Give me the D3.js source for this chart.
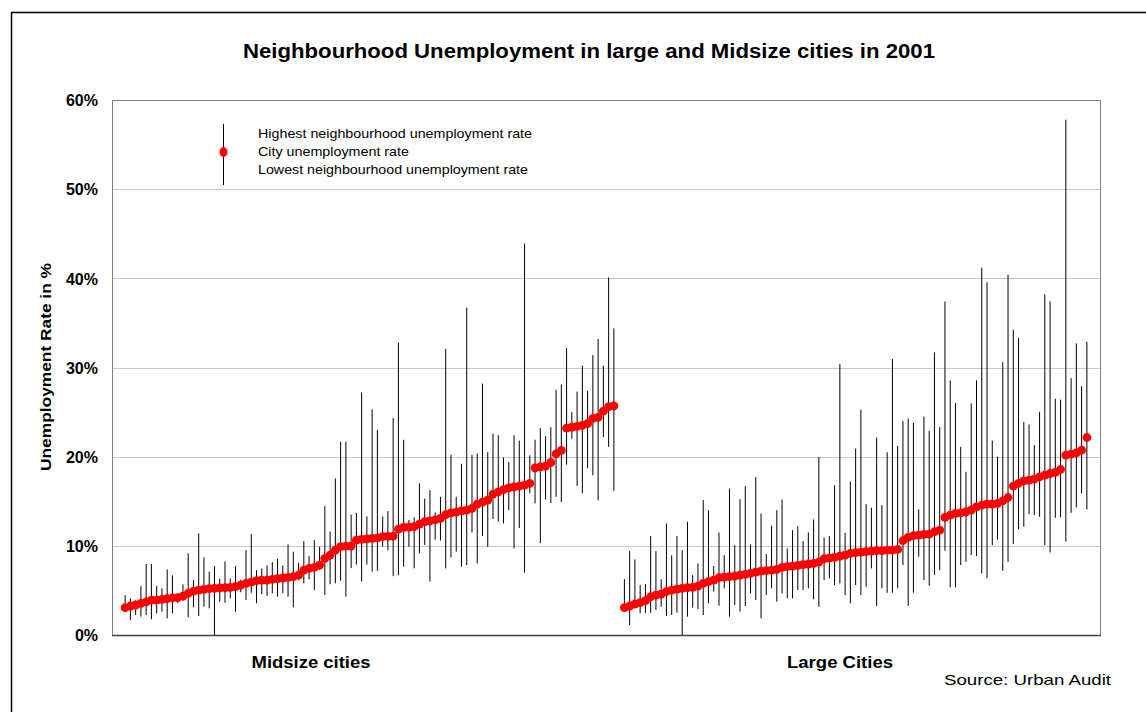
<!DOCTYPE html>
<html>
<head>
<meta charset="utf-8">
<script src="https://cdn.jsdelivr.net/npm/d3@7"></script>
<style>
  body { margin: 0; background: #fff; }
  svg { display: block; font-family: "Liberation Sans", Arial, sans-serif; }
</style>
</head>
<body>
<svg id="chart" width="1146" height="712"></svg>
<script>
// ---------- DATA ----------
const title = "Neighbourhood Unemployment in large and Midsize cities in 2001";
const groupLabels = ["Midsize cities", "Large Cities"];
const yTickValues = [0, 10, 20, 30, 40, 50, 60];
const yAxisTitle = "Unemployment Rate in %";
const legendLabels = ["Highest neighbourhood unemployment rate", "City unemployment rate", "Lowest neighbourhood unemployment rate"];
const sourceText = "Source: Urban Audit";

// Midsize cities (sorted by city rate), values in %
const midsizeCity = [3.06,3.25,3.36,3.55,3.70,3.92,3.92,4.0,4.07,4.15,
  4.18,4.37,4.67,4.93,5.04,5.12,5.19,5.23,5.27,5.3,
  5.34,5.42,5.6,5.79,5.94,6.09,6.16,6.16,6.24,6.31,
  6.39,6.46,6.54,6.72,7.28,7.47,7.58,7.84,8.59,8.96,
  9.52,9.9,9.97,9.97,10.64,10.72,10.79,10.83,10.9,11.02,
  11.06,11.09,11.88,12.06,12.1,12.14,12.44,12.7,12.8,12.9,
  13.07,13.5,13.7,13.78,13.93,14.0,14.2,14.68,14.9,15.13,
  15.8,16.06,16.3,16.5,16.6,16.7,16.8,17.0,18.75,18.86,
  18.94,19.35,20.3,20.7,23.2,23.3,23.4,23.5,23.7,24.3,
  24.4,25.1,25.6,25.7];
const midsizeHigh = [4.48,4.11,3.9,5.49,7.96,7.96,5.49,5.23,7.36,6.69,
  4.6,5.68,9.15,6.16,11.39,8.7,7.1,7.73,6.31,8.25,
  6.35,7.73,6.2,9.52,11.32,7.28,7.47,7.81,8.18,8.55,
  7.81,10.16,9.34,8.1,10.53,8.85,10.64,9.9,14.45,11.6,
  17.56,21.68,21.68,13.5,13.7,27.2,13.3,25.3,23.0,13.3,
  13.9,24.35,32.8,21.9,12.9,13.2,17.0,15.3,16.25,13.75,
  15.5,32.1,20.2,15.5,19.2,36.7,20.2,20.35,28.2,20.5,
  22.6,22.4,19.9,19.4,22.4,21.8,43.9,20.15,21.9,23.2,
  22.3,23.3,27.5,28.1,32.2,25.0,27.3,30.2,27.4,31.4,
  33.2,30.2,40.1,34.4];
const midsizeLow = [2.61,1.68,2.24,2.05,2.24,1.76,2.43,2.61,1.87,2.43,
  3.6,3.85,1.98,3.1,2.13,3.17,2.99,0,3.73,3.62,
  4.11,2.61,4.8,3.92,4.74,3.55,4.59,4.37,4.67,4.3,
  4.67,4.3,3.1,6.16,5.79,6.24,5.04,7.3,4.5,5.7,
  5.8,6.1,4.3,7.5,7.9,6.0,7.9,7.1,7.2,9.9,
  9.5,6.6,6.7,7.66,9.9,7.47,9.15,10.1,5.98,10.68,
  10.6,7.47,8.7,9.34,7.66,7.84,11.5,8.03,11.1,9.9,
  13.0,12.7,12.5,14.0,9.7,12.0,7.0,15.9,14.75,10.3,
  15.2,14.8,15.5,14.9,19.1,22.0,16.7,15.9,18.7,17.9,
  15.1,22.2,21.1,16.2];

// Large cities (sorted by city rate), values in %
const largeCity = [3.06,3.25,3.47,3.62,3.85,4.29,4.48,4.59,4.86,5.04,
  5.15,5.23,5.3,5.34,5.49,5.79,5.98,6.16,6.42,6.5,
  6.54,6.61,6.72,6.8,6.91,7.06,7.17,7.21,7.28,7.36,
  7.58,7.66,7.73,7.81,7.88,7.96,8.03,8.18,8.55,8.63,
  8.7,8.85,8.96,9.15,9.23,9.3,9.34,9.41,9.45,9.45,
  9.52,9.52,9.6,10.57,10.94,11.13,11.2,11.28,11.32,11.58,
  11.76,13.18,13.45,13.63,13.7,13.82,14.0,14.38,14.57,14.68,
  14.68,14.75,15.05,15.42,16.7,17.0,17.29,17.37,17.48,17.74,
  17.93,18.11,18.23,18.56,20.17,20.28,20.43,20.73,22.15];
const largeHigh = [6.27,9.41,8.48,5.6,5.71,11.09,9.41,6.27,12.51,8.93,
  11.09,9.52,12.7,6.72,8.03,15.13,14.0,7.73,11.5,8.96,
  16.43,10.08,15.24,16.7,10.16,17.7,13.63,9.08,12.25,14.0,
  15.2,9.71,11.76,12.2,10.53,11.5,12.96,19.95,10.94,11.09,
  16.8,30.4,11.47,17.2,20.9,25.25,14.68,14.27,22.15,14.57,
  20.5,30.95,21.2,24.0,24.3,23.8,14.08,24.5,22.9,31.7,
  23.3,37.4,28.55,26.0,21.1,18.3,25.96,28.55,41.2,39.55,
  21.8,20.0,30.6,40.4,34.25,33.3,23.9,23.6,21.3,25.0,
  38.2,37.4,26.5,26.4,57.8,28.8,32.7,27.9,32.9];
const largeLow = [2.6,1.12,3.17,2.43,2.5,2.5,2.8,3.17,2.13,2.24,
  2.5,0,2.05,3.06,2.88,2.24,3.55,4.86,3.29,5.23,
  2.05,3.36,2.61,3.25,4.67,3.92,1.87,4.48,5.23,3.73,
  4.67,4.11,4.11,5.04,5.04,5.23,4.0,3.17,6.16,6.35,
  5.6,5.79,4.48,3.55,5.6,4.48,5.42,7.47,3.25,5.23,
  4.74,4.74,5.23,7.84,3.25,4.74,8.78,6.16,5.53,6.72,
  7.28,9.45,5.34,5.34,7.84,8.2,8.96,8.85,6.9,6.35,
  10.08,10.7,7.2,8.2,10.2,11.84,12.14,13.56,13.45,13.26,
  10.08,9.26,13.15,13.2,10.46,13.7,14.3,15.87,14.08];

// ---------- LAYOUT ----------
const svg = d3.select("#chart");
const plot = { left: 112, right: 1100, top: 100, bottom: 635 };
const nSlots = 188;           // category slots along the x axis
const midsizeStart = 2, largeStart = 97;

const x = d3.scaleLinear().domain([0, nSlots]).range([plot.left, plot.right]);
const y = d3.scaleLinear().domain([0, 60]).range([plot.bottom, plot.top]);

const points = [];
midsizeCity.forEach((v, i) => points.push({ slot: midsizeStart + i, city: v, hi: midsizeHigh[i], lo: midsizeLow[i] }));
largeCity.forEach((v, i) => points.push({ slot: largeStart + i, city: v, hi: largeHigh[i], lo: largeLow[i] }));
const cx = d => x(d.slot + 0.5);

// outer frame
svg.append("rect").attr("x", 11.5).attr("y", 12.5).attr("width", 1160).attr("height", 720)
  .attr("fill", "none").attr("stroke", "#000").attr("stroke-width", 1.5);

// title
svg.append("text").attr("x", 589).attr("y", 58).attr("text-anchor", "middle")
  .attr("font-size", 19.5).attr("font-weight", "bold").attr("fill", "#000")
  .attr("textLength", 692).attr("lengthAdjust", "spacingAndGlyphs")
  .text(title);

// gridlines
svg.append("g").selectAll("line").data(yTickValues.filter(t => t > 0 && t < 60)).join("line")
  .attr("x1", plot.left).attr("x2", plot.right)
  .attr("y1", d => Math.round(y(d)) + 0.5).attr("y2", d => Math.round(y(d)) + 0.5)
  .attr("stroke", "#c8c8c8").attr("stroke-width", 1);

// plot border
svg.append("rect").attr("x", plot.left + 0.5).attr("y", plot.top + 0.5)
  .attr("width", plot.right - plot.left).attr("height", plot.bottom - plot.top)
  .attr("fill", "none").attr("stroke", "#808080").attr("stroke-width", 1);
svg.append("line").attr("x1", plot.left).attr("x2", plot.right + 1)
  .attr("y1", plot.bottom + 0.5).attr("y2", plot.bottom + 0.5)
  .attr("stroke", "#444").attr("stroke-width", 1.5);

// y axis (labels only)
const yAxis = d3.axisLeft(y).tickValues(yTickValues).tickFormat(d => d + "%").tickSize(0).tickPadding(0);
const yg = svg.append("g").attr("transform", `translate(${plot.left - 14},0)`).call(yAxis);
yg.select(".domain").remove();
yg.selectAll("text").attr("font-size", 16).attr("font-weight", "bold")
  .attr("font-family", "'Liberation Sans', Arial, sans-serif").attr("fill", "#000")
  .attr("dy", "0.36em");

// y axis title
svg.append("text").attr("transform", "translate(51,367) rotate(-90)")
  .attr("text-anchor", "middle").attr("font-size", 15.5).attr("font-weight", "bold")
  .attr("textLength", 208).attr("lengthAdjust", "spacingAndGlyphs")
  .text(yAxisTitle);

// high-low lines
svg.append("g").selectAll("line").data(points).join("line")
  .attr("x1", cx).attr("x2", cx)
  .attr("y1", d => y(d.hi)).attr("y2", d => y(d.lo))
  .attr("stroke", "#000").attr("stroke-width", 1);

// city markers
svg.append("g").selectAll("circle").data(points).join("circle")
  .attr("cx", cx).attr("cy", d => y(d.city)).attr("r", 4.4)
  .attr("fill", "#ff0000");

// group labels
const groupCenters = [311, 840];
const groupWidths = [119, 106];
groupLabels.forEach((t, i) => {
  svg.append("text").attr("x", groupCenters[i]).attr("y", 668).attr("text-anchor", "middle")
    .attr("font-size", 16).attr("font-weight", "bold")
    .attr("textLength", groupWidths[i]).attr("lengthAdjust", "spacingAndGlyphs")
    .text(t);
});

// source
svg.append("text").attr("x", 1111).attr("y", 685).attr("text-anchor", "end")
  .attr("font-size", 14.5).attr("textLength", 167).attr("lengthAdjust", "spacingAndGlyphs")
  .text(sourceText);

// legend
const lg = svg.append("g");
lg.append("line").attr("x1", 223.5).attr("x2", 223.5).attr("y1", 124).attr("y2", 185)
  .attr("stroke", "#000").attr("stroke-width", 1);
lg.append("ellipse").attr("cx", 223.5).attr("cy", 152).attr("rx", 4).attr("ry", 5).attr("fill", "#ff0000");
const legendY = [138, 156, 174];
const legendW = [274, 151, 270];
legendLabels.forEach((t, i) => {
  lg.append("text").attr("x", 258).attr("y", legendY[i]).attr("font-size", 13.5)
    .attr("textLength", legendW[i]).attr("lengthAdjust", "spacingAndGlyphs")
    .text(t);
});
</script>
</body>
</html>
